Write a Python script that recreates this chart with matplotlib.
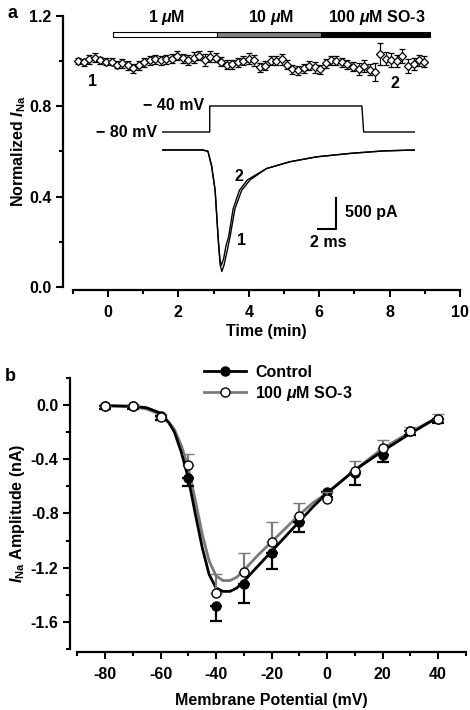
import numpy as np
import matplotlib
matplotlib.use('Agg')
import matplotlib.pyplot as plt
from matplotlib.ticker import MultipleLocator
from matplotlib.lines import Line2D

plt.rcParams['font.family'] = ['Liberation Sans', 'DejaVu Sans']
plt.rcParams['font.weight'] = 'bold'
plt.rcParams['axes.labelweight'] = 'bold'
plt.rcParams['font.size'] = 11.5
plt.rcParams['axes.unicode_minus'] = False
plt.rcParams['mathtext.fontset'] = 'custom'
plt.rcParams['mathtext.rm'] = 'Liberation Sans:bold'
plt.rcParams['mathtext.it'] = 'Liberation Sans:bold:italic'
plt.rcParams['mathtext.bf'] = 'Liberation Sans:bold'

FS = 11.5

# ---- panel a: time course ----
time_min = [-0.84, -0.68, -0.53, -0.37, -0.22, -0.06, 0.10, 0.25, 0.41, 0.56,
            0.72, 0.88, 1.03, 1.19, 1.34, 1.50, 1.66, 1.81, 1.97, 2.12,
            2.28, 2.44, 2.59, 2.75, 2.90, 3.06, 3.22, 3.37, 3.53, 3.68,
            3.84, 4.00, 4.15, 4.31, 4.46, 4.62, 4.78, 4.93, 5.09, 5.24,
            5.40, 5.56, 5.71, 5.87, 6.02, 6.18, 6.34, 6.49, 6.65, 6.80,
            6.96, 7.12, 7.27, 7.43, 7.58, 7.74, 7.90, 8.05, 8.21, 8.36,
            8.52, 8.68, 8.83, 8.99]
norm_ina = [1.000, 0.993, 1.007, 1.015, 1.003, 0.996, 0.996, 0.983, 0.990, 0.981,
            0.967, 0.981, 0.993, 1.003, 1.007, 1.003, 1.007, 1.010, 1.022, 1.012,
            1.004, 1.015, 1.022, 1.004, 1.019, 1.015, 0.996, 0.983, 0.986, 0.993,
            1.000, 1.010, 1.003, 0.971, 0.978, 1.000, 1.000, 1.007, 0.983, 0.964,
            0.959, 0.967, 0.978, 0.971, 0.964, 0.990, 1.003, 1.000, 0.993, 0.986,
            0.975, 0.964, 0.978, 0.961, 0.950, 1.030, 1.010, 1.004, 1.000, 1.022,
            0.978, 0.986, 1.003, 0.997]
norm_err = [0.015, 0.015, 0.02, 0.02, 0.015, 0.015, 0.015, 0.015, 0.02, 0.02,
            0.02, 0.02, 0.02, 0.02, 0.02, 0.02, 0.02, 0.02, 0.02, 0.02,
            0.02, 0.025, 0.02, 0.025, 0.025, 0.02, 0.02, 0.02, 0.02, 0.02,
            0.02, 0.025, 0.025, 0.02, 0.02, 0.02, 0.02, 0.025, 0.02, 0.02,
            0.02, 0.02, 0.02, 0.025, 0.02, 0.02, 0.02, 0.02, 0.02, 0.02,
            0.02, 0.025, 0.025, 0.025, 0.04, 0.05, 0.03, 0.03, 0.025, 0.03,
            0.03, 0.025, 0.025, 0.025]

drug_labels = ['1 $\\mu$M', '10 $\\mu$M', '100 $\\mu$M SO-3']
drug_start = [0.13, 3.1, 6.04]
drug_end = [3.1, 6.04, 9.15]
drug_colors = ['white', '#808080', 'black']

# inset: voltage protocol (ms, mV) and current traces (ms, pA)
vstep_t = [0, 5.3, 5.3, 22.2, 22.4, 28.1]
vstep_mv = [-80, -80, -40, -40, -80, -80]
trace1_t = [0, 4.5, 5.1, 5.5, 5.9, 6.25, 6.45, 6.65, 6.9, 7.2, 7.56, 8.1, 8.85,
            9.8, 11.6, 14.2, 17.2, 20.9, 24.6, 28.1]
trace1_pa = [0, 0, -20, -250, -650, -1450, -1850, -1960, -1850, -1650, -1400, -950,
             -650, -480, -300, -190, -110, -55, -15, 0]
trace2_t = [0, 4.5, 5.1, 5.5, 5.9, 6.25, 6.45, 6.6, 6.85, 7.1, 7.4, 7.9, 8.6,
            9.5, 11.6, 14.2, 17.2, 20.9, 24.6, 28.1]
trace2_pa = [0, 0, -20, -250, -650, -1450, -1780, -1860, -1750, -1550, -1400, -950,
             -650, -480, -300, -190, -110, -55, -15, 0]

# ---- panel b: I-V relationship ----
vm = [-80, -70, -60, -50, -40, -30, -20, -10, 0, 10, 20, 30, 40]
ctrl = [-0.01, -0.01, -0.08, -0.54, -1.48, -1.32, -1.09, -0.86, -0.64, -0.50, -0.37, -0.19, -0.10]
ctrl_err = [0.02, 0.02, 0.03, 0.06, 0.11, 0.14, 0.12, 0.08, 0.04, 0.09, 0.05, 0.03, 0.03]
so3 = [-0.01, -0.01, -0.09, -0.44, -1.39, -1.23, -1.01, -0.82, -0.69, -0.49, -0.32, -0.19, -0.10]
so3_err = [0.02, 0.02, 0.02, 0.08, 0.14, 0.14, 0.15, 0.10, 0.05, 0.08, 0.06, 0.03, 0.03]

fit_vm = [-80, -70, -65, -60, -57, -55, -52.5, -50, -47.5, -45, -42.5, -40, -37.5,
          -35, -32.5, -30, -25, -20, -15, -10, -5, 0, 10, 20, 30, 40]
ctrl_fit = [-0.005, -0.01, -0.02, -0.06, -0.13, -0.2, -0.35, -0.54, -0.8, -1.05, -1.25,
            -1.35, -1.375, -1.375, -1.35, -1.30, -1.19, -1.08, -0.97, -0.86, -0.75,
            -0.65, -0.48, -0.34, -0.21, -0.09]
so3_fit = [-0.005, -0.01, -0.03, -0.07, -0.13, -0.18, -0.3, -0.46, -0.7, -0.95, -1.15,
           -1.26, -1.295, -1.295, -1.27, -1.22, -1.11, -1.01, -0.91, -0.81, -0.72,
           -0.65, -0.48, -0.32, -0.2, -0.09]

W, H = 470, 710
fig = plt.figure(figsize=(W / 100, H / 100), dpi=100)


def box(x0, y0, x1, y1):
    return [x0 / W, 1 - y1 / H, (x1 - x0) / W, (y1 - y0) / H]


def style_axes(ax, left_off, bottom_off):
    ax.spines['top'].set_visible(False)
    ax.spines['right'].set_visible(False)
    ax.spines['left'].set_position(('outward', left_off))
    ax.spines['bottom'].set_position(('outward', bottom_off))
    ax.spines['left'].set_linewidth(1.6)
    ax.spines['bottom'].set_linewidth(1.6)
    ax.tick_params(which='major', length=5, width=1.5, labelsize=FS)
    ax.tick_params(which='minor', length=3, width=1.5)
    ax.tick_params(axis='x', pad=6)


# panel a
axa = fig.add_axes(box(72.8, 15.7, 460, 287))
axa.errorbar(time_min, norm_ina, yerr=norm_err, fmt='D', ms=4, mfc='white', mec='black',
             mew=0.9, ecolor='black', elinewidth=0.9, capsize=2.5, capthick=0.9)
for s, e, c in zip(drug_start, drug_end, drug_colors):
    axa.barh(1.117, e - s, left=s, height=0.025, color=c, edgecolor='black', linewidth=0.8)
for s, e, lab in zip(drug_start, drug_end, drug_labels):
    axa.text((s + e) / 2 + 0.05, 1.194, lab, ha='center', va='center', fontsize=FS)
axa.text(-0.43, 0.907, '1', ha='center', va='center', fontsize=FS)
axa.text(8.15, 0.902, '2', ha='center', va='center', fontsize=FS)
axa.set_xlim(-1, 10)
axa.set_ylim(0, 1.2)
axa.spines['left'].set_bounds(0, 1.2)
axa.spines['bottom'].set_bounds(-1, 10)
axa.xaxis.set_major_locator(MultipleLocator(2))
axa.xaxis.set_minor_locator(MultipleLocator(1))
axa.yaxis.set_major_locator(MultipleLocator(0.4))
axa.yaxis.set_minor_locator(MultipleLocator(0.2))
axa.yaxis.set_major_formatter(lambda v, p: f'{v:.1f}')
style_axes(axa, 7, 2)
axa.set_xlabel('Time (min)', fontsize=FS, fontweight='bold', labelpad=3)
axa.set_ylabel('Normalized $\\mathit{I}_{\\mathrm{Na}}$', fontsize=FS, fontweight='bold',
               labelpad=1)

# inset voltage protocol
axv = fig.add_axes(box(162, 95, 415, 140))
axv.plot(vstep_t, vstep_mv, color='black', lw=1.0)
axv.set_xlim(0, 28.1)
axv.set_ylim(-92.3, -23.1)
axv.axis('off')
axv.text(-0.5, -80, '\u2212 80 mV', ha='right', va='center', fontsize=FS)
axv.text(4.7, -40, '\u2212 40 mV', ha='right', va='center', fontsize=FS)

# inset current traces
axi = fig.add_axes(box(162, 140, 415, 280))
axi.plot(trace1_t, trace1_pa, color='black', lw=1.0)
axi.plot(trace2_t, trace2_pa, color='black', lw=1.0)
axi.plot([17.3, 19.3, 19.3], [-1274, -1274, -774], color='black', lw=1.5)
axi.text(20.3, -1016, '500 pA', ha='left', va='center', fontsize=FS)
axi.text(18.5, -1500, '2 ms', ha='center', va='center', fontsize=FS)
axi.text(8.8, -1452, '1', ha='center', va='center', fontsize=FS)
axi.text(8.55, -420, '2', ha='center', va='center', fontsize=FS)
axi.set_xlim(0, 28.1)
axi.set_ylim(-2097, 161)
axi.axis('off')

# panel b
grey = '#7a7a7a'
axb = fig.add_axes(box(77.3, 377.9, 465.8, 649))
axb.plot(fit_vm, so3_fit, color=grey, lw=2, zorder=2)
axb.plot(fit_vm, ctrl_fit, color='black', lw=2, zorder=3)
axb.errorbar(vm, ctrl, yerr=[ctrl_err, [0] * len(ctrl_err)], fmt='o', ms=6.5, mfc='black',
             mec='black', ecolor='black', elinewidth=1.6, capsize=4, capthick=1.6, zorder=4)
axb.errorbar(vm, so3, yerr=[[0] * len(so3_err), so3_err], fmt='o', ms=6.5, mfc='white',
             mec='black', mew=1.0, ecolor=grey, elinewidth=1.6, capsize=4, capthick=1.6,
             zorder=5)
axb.set_xlim(-90, 50)
axb.set_ylim(-1.8, 0.2)
axb.spines['left'].set_bounds(-1.8, 0.2)
axb.spines['bottom'].set_bounds(-90, 50)
axb.xaxis.set_major_locator(MultipleLocator(20))
axb.xaxis.set_minor_locator(MultipleLocator(10))
axb.yaxis.set_major_locator(MultipleLocator(0.4))
axb.yaxis.set_minor_locator(MultipleLocator(0.2))
axb.yaxis.set_major_formatter(lambda v, p: f'{v:.1f}')
style_axes(axb, 5, 2)
axb.set_xlabel('Membrane Potential (mV)', fontsize=FS, fontweight='bold', labelpad=8)
axb.set_ylabel('$\\mathit{I}_{\\mathrm{Na}}$ Amplitude (nA)', fontsize=FS, fontweight='bold',
               labelpad=3)

handles = [Line2D([], [], color='black', lw=2, marker='o', ms=6.5, mfc='black', mec='black'),
           Line2D([], [], color=grey, lw=2, marker='o', ms=6.5, mfc='white', mec='black')]
leg = fig.legend(handles, ['Control', '100 $\\mu$M SO-3'], loc='upper left',
                 bbox_to_anchor=(204 / W, 1 - 365 / H), frameon=False, handlelength=2.6,
                 handletextpad=0.6, labelspacing=0.25, borderpad=0, borderaxespad=0,
                 prop={'weight': 'bold', 'size': FS})

fig.text(8 / W, 1 - 14 / H, 'a', fontsize=13, fontweight='bold', ha='left', va='center')
fig.text(5 / W, 1 - 377 / H, 'b', fontsize=13, fontweight='bold', ha='left', va='center')

fig.savefig('out.png', dpi=100)
